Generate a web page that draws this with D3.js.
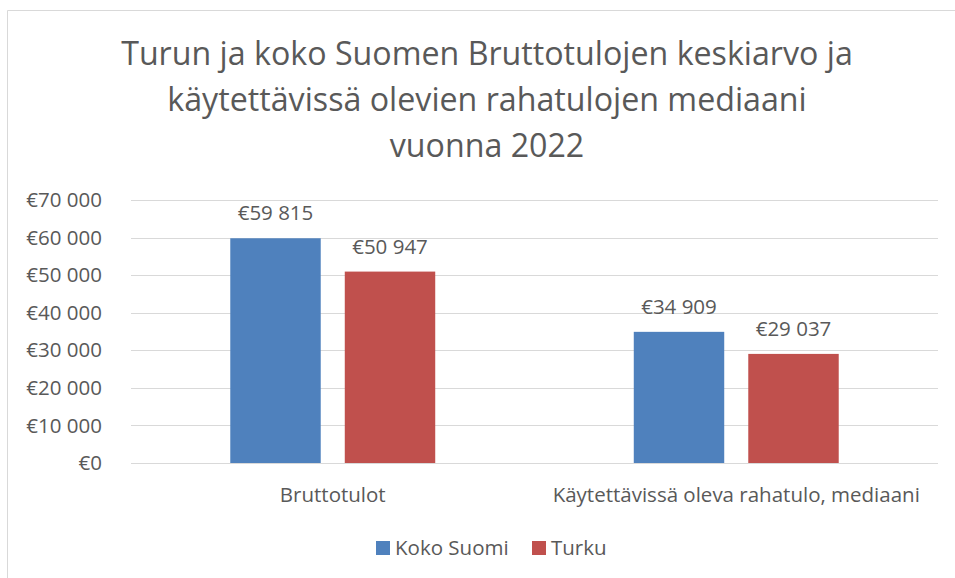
<!DOCTYPE html>
<html>
<head>
<meta charset="utf-8">
<script src="https://cdn.jsdelivr.net/npm/d3@7"></script>
<style>
  body { margin: 0; background: #fff; }
  text { font-family: "Open Sans", sans-serif; fill: #595959; }
</style>
</head>
<body>
<div id="chart"></div>
<script>
// Data
const categories = ["Bruttotulot", "Käytettävissä oleva rahatulo, mediaani"];
const series = ["Koko Suomi", "Turku"];
const kokoSuomi = [59815, 34909];
const turku = [50947, 29037];
const yTicks = [0, 10000, 20000, 30000, 40000, 50000, 60000, 70000];
const titleLines = [
  "Turun ja koko Suomen Bruttotulojen keskiarvo ja",
  "käytettävissä olevien rahatulojen mediaani",
  "vuonna 2022"
];

const colors = ["#4F81BD", "#C0504D"];
const width = 955, height = 578;
const margin = { top: 200, right: 17, bottom: 115, left: 131 };

const svg = d3.select("#chart")
  .append("svg")
    .attr("width", width)
    .attr("height", height);

// Chart border (top and left visible)
svg.append("path")
    .attr("d", "M7.5,578 V10.5 H955")
    .attr("fill", "none")
    .attr("stroke", "#D9D9D9")
    .attr("stroke-width", 1);

// Title
svg.append("g").selectAll("text")
  .data(titleLines)
  .enter().append("text")
    .attr("x", 487)
    .attr("y", (d, i) => 65 + i * 46)
    .attr("text-anchor", "middle")
    .style("font-size", "32.2px")
    .text(d => d);

// Scales
const x0 = d3.scaleBand()
    .domain(categories)
    .range([margin.left, width - margin.right]);

const x1 = d3.scaleBand()
    .domain(series)
    .range([0, x0.bandwidth()])
    .paddingInner(0.21)
    .paddingOuter(0.867);

const y = d3.scaleLinear()
    .domain([0, 70000])
    .range([height - margin.bottom, margin.top]);

const fmt = v => "€" + d3.format(",")(v).replace(/,/g, " ");

// Gridlines
svg.append("g").selectAll("line")
  .data(yTicks)
  .enter().append("line")
    .attr("x1", margin.left)
    .attr("x2", width - margin.right)
    .attr("y1", d => Math.round(y(d)) + 0.5)
    .attr("y2", d => Math.round(y(d)) + 0.5)
    .attr("stroke", "#D9D9D9")
    .attr("stroke-width", 1);

// Y axis labels
svg.append("g").selectAll("text")
  .data(yTicks)
  .enter().append("text")
    .attr("x", 102)
    .attr("y", d => y(d))
    .attr("dy", "0.35em")
    .attr("text-anchor", "end")
    .style("font-size", "20.5px")
    .text(fmt);

// Bars
const values = [kokoSuomi, turku];
const groups = svg.append("g").selectAll("g")
  .data(categories)
  .enter().append("g")
    .attr("transform", d => "translate(" + x0(d) + ",0)");

groups.selectAll("rect")
  .data((d, i) => series.map((s, j) => ({ s: s, v: values[j][i], c: colors[j] })))
  .enter().append("rect")
    .attr("x", d => x1(d.s))
    .attr("width", x1.bandwidth())
    .attr("y", d => y(d.v))
    .attr("height", d => y(0) - y(d.v))
    .attr("fill", d => d.c);

// Data labels
groups.selectAll("text")
  .data((d, i) => series.map((s, j) => ({ s: s, v: values[j][i] })))
  .enter().append("text")
    .attr("x", d => x1(d.s) + x1.bandwidth() / 2)
    .attr("y", d => y(d.v) - 18)
    .attr("text-anchor", "middle")
    .style("font-size", "20.5px")
    .text(d => fmt(d.v));

// Category labels
svg.append("g").selectAll("text")
  .data(categories)
  .enter().append("text")
    .attr("x", d => x0(d) + x0.bandwidth() / 2)
    .attr("y", 502)
    .attr("text-anchor", "middle")
    .style("font-size", "20.5px")
    .text(d => d);

// Legend
const legend = svg.append("g");
const legendX = [376, 532];
series.forEach(function(s, i) {
  legend.append("rect")
    .attr("x", legendX[i])
    .attr("y", 541)
    .attr("width", 14)
    .attr("height", 14)
    .attr("fill", colors[i]);
  legend.append("text")
    .attr("x", legendX[i] + 19)
    .attr("y", 555)
    .style("font-size", "20.5px")
    .text(s);
});
</script>
</body>
</html>
